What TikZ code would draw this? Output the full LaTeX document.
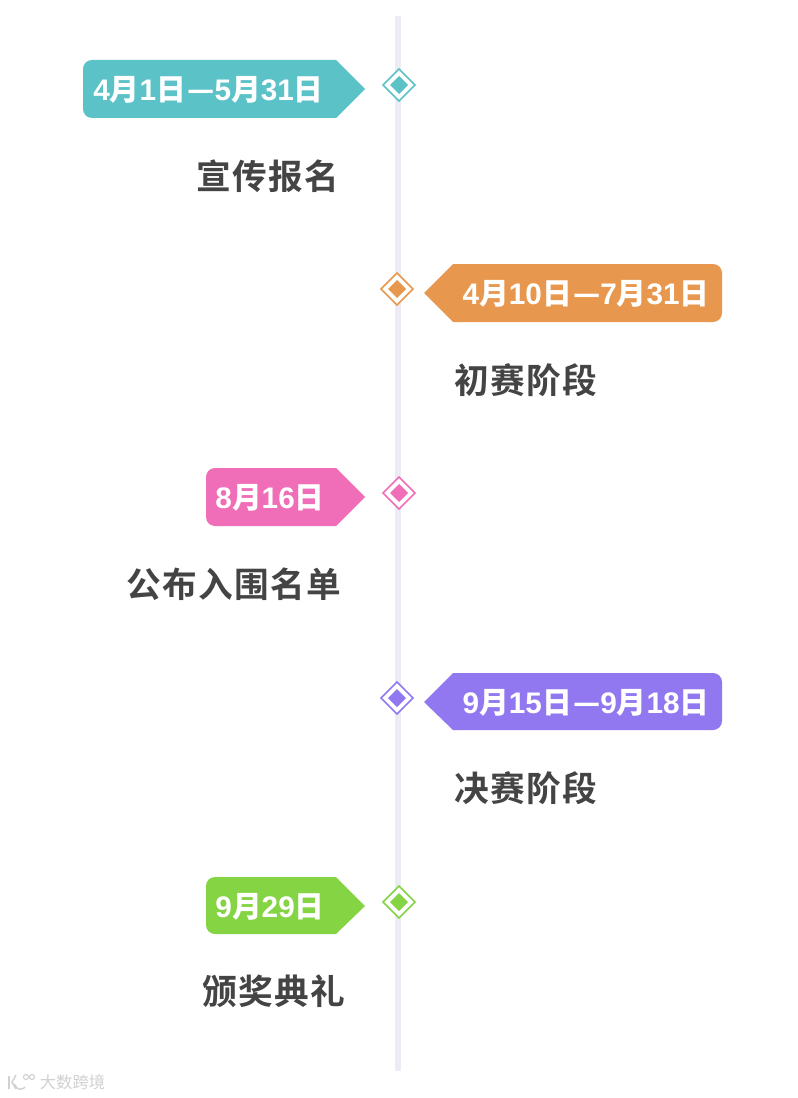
\documentclass[tikz,border=0pt]{standalone}
\usepackage{fontspec}
\setmainfont{Liberation Sans}
\newfontfamily\cjk[LetterSpace=4]{Noto Sans CJK SC Bold}
\newfontfamily\cjktag{Noto Sans CJK SC Bold}
\newfontfamily\cjkwm{Noto Sans CJK SC}
\newcommand{\Y}{{\cjktag 月}}
\newcommand{\R}{{\cjktag 日}}
\newcommand{\D}{\hspace{1pt}{\cjktag —}\hspace{0pt}}
\definecolor{cteal}{HTML}{5BC2C8}
\definecolor{corange}{HTML}{E8984E}
\definecolor{cpink}{HTML}{F06EB8}
\definecolor{cpurple}{HTML}{9278F0}
\definecolor{cgreen}{HTML}{84D444}
\definecolor{cspine}{HTML}{ECECF4}
\definecolor{ctitle}{HTML}{444444}
\tikzset{
  x=0.75pt,y=-0.75pt,
  tagtext/.style={text=white,font=\fontsize{22.3}{24}\selectfont\bfseries,inner sep=0pt},
  titletext/.style={text=ctitle,font=\cjk\fontsize{26}{28}\selectfont,inner sep=0pt},
  outerdia/.style={draw=#1,line width=1.2pt,fill=white,line join=miter},
  innerdia/.style={fill=#1},
  tagshape/.style={fill=#1},
}
\newcommand{\dia}[3]{%
  \draw[outerdia=#3] (#1,#2-16) -- (#1+16,#2) -- (#1,#2+16) -- (#1-16,#2) -- cycle;
  \fill[innerdia=#3] (#1,#2-9) -- (#1+9,#2) -- (#1,#2+9) -- (#1-9,#2) -- cycle;
}
\newcommand{\ltag}[5]{% left, top, bottom, mid, colour
  \fill[tagshape=#5] (336,#2) -- (365,#4) -- (336,#3) -- (#1+9,#3) arc[start angle=90,end angle=180,radius=9] -- (#1,#2+9) arc[start angle=180,end angle=270,radius=9] -- cycle;
}
\newcommand{\rtag}[4]{% top, bottom, mid, colour
  \fill[tagshape=#4] (453,#1) -- (424,#3) -- (453,#2) -- (713,#2) arc[start angle=90,end angle=0,radius=9] -- (722,#1+9) arc[start angle=0,end angle=-90,radius=9] -- cycle;
}
\begin{document}
\begin{tikzpicture}
\useasboundingbox[fill=white] (0,0) rectangle (798,1098);
\coordinate (top) at (398,16);
\coordinate (bot) at (398,1071);
\draw[cspine,line width=4.5pt] (top) -- (bot);

\dia{399}{85}{cteal}
\dia{397}{289}{corange}
\dia{399}{493}{cpink}
\dia{397}{698}{cpurple}
\dia{399}{902}{cgreen}

\ltag{83}{60}{118}{89}{cteal}
\rtag{264}{322}{293}{corange}
\ltag{206}{468}{526}{497}{cpink}
\rtag{673}{730}{702}{cpurple}
\ltag{206}{877}{934}{906}{cgreen}

\node[tagtext] (d1) at (208.5,90) {4\Y1\R\D5\Y31\R};
\node[tagtext] (d2) at (586,294) {4\Y10\R\D7\Y31\R};
\node[tagtext] (d3) at (270,498) {8\Y16\R};
\node[tagtext] (d4) at (586,703) {9\Y15\R\D9\Y18\R};
\node[tagtext] (d5) at (270,907) {9\Y29\R};

\node[titletext] (t1) at (268,176) {宣传报名};
\node[titletext] (t2) at (526,380) {初赛阶段};
\node[titletext] (t3) at (234,584) {公布入围名单};
\node[titletext] (t4) at (526,788) {决赛阶段};
\node[titletext] (t5) at (274,991) {颁奖典礼};

\node[text=black!18,font=\cjkwm\fontsize{12.2}{14}\selectfont,inner sep=0pt] (wm) at (72.5,1082) {大数跨境};
\draw[black!18,line width=1.1pt] (9,1076) -- (9,1089);
\draw[black!18,line width=1.1pt] (16,1075) -- (12,1082) -- (16,1089);
\draw[black!18,line width=1.1pt] (25,1087) arc[start angle=40,end angle=170,radius=6];
\draw[black!18,line width=0.8pt] (26,1077) circle[radius=2.5] (32,1077) circle[radius=2.5];
\end{tikzpicture}
\end{document}
